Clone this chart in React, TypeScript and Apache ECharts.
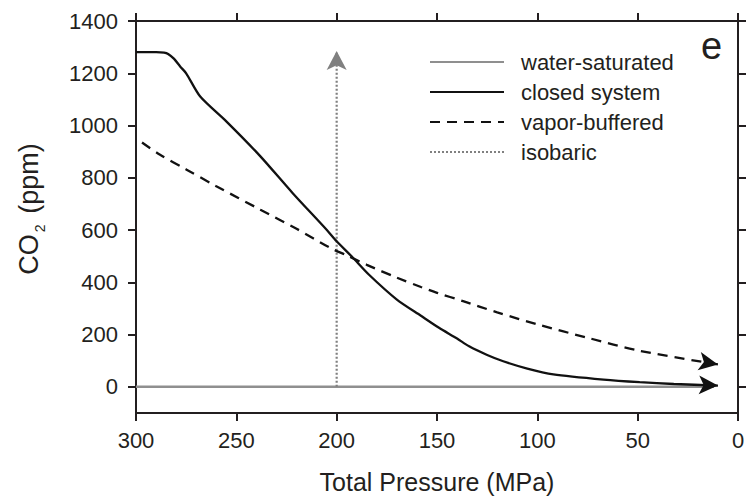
import React, { useEffect, useRef } from "react";
import * as echarts from "echarts";

const yTicks = [0, 200, 400, 600, 800, 1000, 1200, 1400];

const seriesNames = ["water-saturated", "closed system", "vapor-buffered", "isobaric"];

const waterP = [300, 12];
const waterCO2 = [0, 0];

const closedP = [300, 290, 286, 284, 281, 278, 275, 268, 255, 238, 222, 205, 200, 192, 184, 170, 158, 149, 140, 134, 125, 117, 105, 92, 67, 49, 32, 10];
const closedCO2 = [1281, 1281, 1279, 1274, 1255, 1226, 1200, 1111, 1016, 882, 742, 601, 557, 495, 430, 334, 272, 226, 185, 155, 122, 98, 70, 48, 28, 18, 11, 5];

const vaporP = [297, 288, 275, 260, 238, 220, 203, 195, 185, 170, 158, 150, 137, 120, 99, 75, 49, 10];
const vaporCO2 = [935, 888, 832, 768, 678, 605, 531, 503, 467, 418, 382, 360, 328, 285, 237, 188, 138, 86];

const isoP = [200, 200];
const isoCO2 = [0, 1285];

const FONT = "'Liberation Sans', Arial, Helvetica, sans-serif";
const INK = "#231f20";

function withArrow(xs: number[], ys: number[], rotate: number, color: string, size: number[]) {
  return xs.map((x, i) => {
    if (i === xs.length - 1) {
      return {
        value: [x, ys[i]],
        symbol: "arrow",
        symbolSize: size,
        symbolRotate: rotate,
        itemStyle: { color, opacity: 1 },
      };
    }
    return { value: [x, ys[i]], symbol: "none" };
  });
}

export default function App() {
  const ref = useRef<HTMLDivElement>(null);
  useEffect(() => {
    if (!ref.current) return;
    const chart = echarts.init(ref.current, null, { renderer: "svg" });
    const axisCommon = {
      type: "value",
      splitLine: { show: false },
      axisLine: { show: true, onZero: false, lineStyle: { color: INK, width: 2 } },
      axisTick: { show: true, inside: false, length: 8, lineStyle: { color: INK, width: 2 } },
    };
    const plain = (v: number) => String(v);
    chart.setOption({
      animation: false,
      backgroundColor: "#ffffff",
      textStyle: { fontFamily: FONT },
      grid: { left: 136, right: 11, top: 21, bottom: 91, containLabel: false },
      legend: {
        data: seriesNames,
        orient: "vertical",
        left: 429,
        top: 51,
        padding: 0,
        itemWidth: 74,
        itemHeight: 14,
        itemGap: 8,
        itemStyle: { opacity: 0 },
        textStyle: { fontSize: 22, color: INK, fontFamily: FONT, padding: [0, 0, 0, 12] },
        selectedMode: false,
      },
      xAxis: [
        {
          ...axisCommon,
          position: "bottom",
          min: 0,
          max: 300,
          interval: 50,
          inverse: true,
          name: "Total Pressure (MPa)",
          nameLocation: "middle",
          nameGap: 56,
          nameTextStyle: { fontSize: 25, color: INK, fontFamily: FONT },
          axisLabel: { show: true, fontSize: 22, color: INK, margin: 16, fontFamily: FONT, formatter: plain },
        },
        {
          ...axisCommon,
          position: "top",
          min: 0,
          max: 300,
          interval: 50,
          inverse: true,
          axisLabel: { show: false },
        },
      ],
      yAxis: [
        {
          ...axisCommon,
          position: "left",
          min: -100,
          max: 1400,
          axisTick: { ...axisCommon.axisTick, customValues: yTicks },
          axisLabel: { show: true, fontSize: 22, color: INK, margin: 18, fontFamily: FONT, customValues: yTicks, formatter: plain },
        },
        {
          ...axisCommon,
          position: "right",
          min: -100,
          max: 1400,
          axisTick: { ...axisCommon.axisTick, customValues: yTicks },
          axisLabel: { show: false, customValues: yTicks },
        },
      ],
      graphic: [
        {
          type: "text",
          left: 701,
          top: 27,
          style: { text: "e", fontSize: 38, fill: INK, fontFamily: FONT },
        },
        {
          type: "text",
          x: 31,
          y: 209,
          rotation: Math.PI / 2,
          style: {
            text: "{a|CO}{b|2}{a| (ppm)}",
            align: "center",
            verticalAlign: "middle",
            fill: INK,
            fontFamily: FONT,
            rich: {
              a: { fontSize: 27, fill: INK, fontFamily: FONT, verticalAlign: "top", lineHeight: 32 },
              b: { fontSize: 14, fill: INK, fontFamily: FONT, verticalAlign: "top", lineHeight: 32, padding: [18, 3, 0, 2] },
            },
          },
        },
      ],
      series: [
        {
          name: "water-saturated",
          type: "line",
          symbol: "none",
          lineStyle: { color: "#8f8f8f", width: 2.5 },
          itemStyle: { color: "#8f8f8f" },
          data: waterP.map((x, i) => [x, waterCO2[i]]),
          z: 2,
        },
        {
          name: "closed system",
          type: "line",
          symbol: "none",
          showSymbol: true,
          showAllSymbol: true,
          smooth: 0.25,
          lineStyle: { color: "#111111", width: 2.3 },
          itemStyle: { color: "#111111" },
          data: withArrow(closedP, closedCO2, -92, "#111111", [14, 19]),
          z: 4,
        },
        {
          name: "vapor-buffered",
          type: "line",
          symbol: "none",
          showSymbol: true,
          showAllSymbol: true,
          smooth: 0.3,
          lineStyle: { color: "#111111", width: 2.3, type: [10, 7] },
          itemStyle: { color: "#111111" },
          data: withArrow(vaporP, vaporCO2, -100, "#111111", [14, 19]),
          z: 4,
        },
        {
          name: "isobaric",
          type: "line",
          symbol: "none",
          showSymbol: true,
          showAllSymbol: true,
          lineStyle: { color: "#808080", width: 2.2, type: [2, 2] },
          itemStyle: { color: "#808080" },
          data: withArrow(isoP, isoCO2, 0, "#808080", [15, 19]),
          z: 3,
        },
      ],
    });
    return () => chart.dispose();
  }, []);
  return (
    <div
      ref={ref}
      style={{ position: "fixed", left: 0, top: 0, width: 749, height: 504, background: "#fff" }}
    />
  );
}
